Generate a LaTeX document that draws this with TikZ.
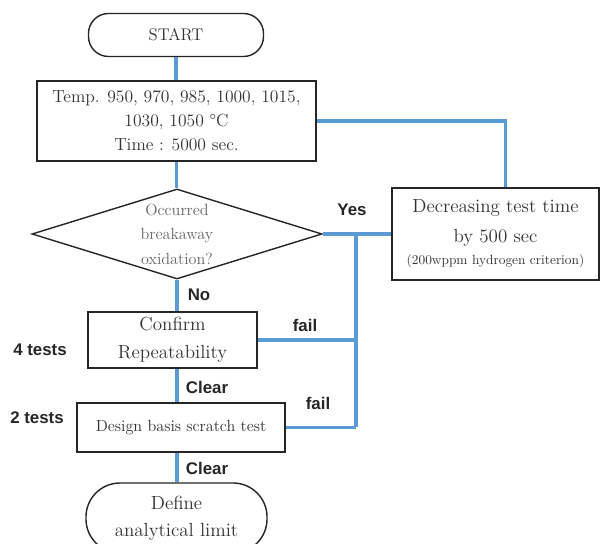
\documentclass[tikz,border=0pt]{standalone}
\usepackage{fontspec}
\newfontfamily\labelfont{Liberation Sans}
\usetikzlibrary{shapes.geometric}
\usepackage{xcolor}
\definecolor{lineBlue}{RGB}{91,155,213}
\colorlet{boxText}{black!80}
\colorlet{softText}{black!60}

\begin{document}
\begin{tikzpicture}[x=0.025cm, y=-0.025cm,
  box/.style={draw=black!85, line width=1pt, fill=white, align=center,
    inner sep=0pt, text=boxText},
  term/.style={box, rounded corners=#1},
  link/.style={lineBlue, line width=2.2pt},
  tag/.style={font=\labelfont\bfseries\fontsize{12}{14}\selectfont, text=black!85}
]
  \useasboundingbox (0,0) rectangle (600,544);

  \node[term=0.5cm, minimum width=4.375cm, minimum height=1.075cm,
    font=\fontsize{12}{14}\selectfont] (start) at (176,35) {START};
  \node[box, minimum width=6.975cm, minimum height=2cm,
    font=\fontsize{12.5}{17}\selectfont] (cond) at (176.5,121)
    {Temp. 950, 970, 985, 1000, 1015,\\ 1030, 1050 \textdegree C\\ Time : 5000 sec.};
  \node[box, diamond, aspect=3.2, minimum width=7.25cm, minimum height=2.25cm,
    text=softText, font=\fontsize{11.5}{17.5}\selectfont] (check) at (177,234)
    {Occurred\\ breakaway\\ oxidation?};
  \node[box, minimum width=5.175cm, minimum height=2.3cm,
    font=\fontsize{13.5}{21}\selectfont] (decr) at (495.5,234)
    {Decreasing test time\\ by 500 sec\\[-5pt]
     {\fontsize{9.5}{12}\selectfont (200wppm hydrogen criterion)}};
  \node[box, minimum width=4.225cm, minimum height=1.4cm,
    font=\fontsize{13.5}{20}\selectfont] (confirm) at (172.5,340)
    {Confirm\\ Repeatability};
  \node[box, minimum width=5.2cm, minimum height=1.225cm,
    font=\fontsize{11.5}{14}\selectfont] (design) at (181,427.5)
    {Design basis scratch test};
  \node[term=0.85cm, minimum width=4.525cm, minimum height=1.75cm,
    font=\fontsize{13.5}{19}\selectfont] (define) at (176.5,518)
    {Define\\ analytical limit};

  \coordinate (back) at (356,427.5);

  \draw[link] (start.south) -- (start.south |- cond.north);
  \draw[link] (cond.south) -- (cond.south |- check.north);
  \draw[link] (cond.east) -| ([xshift=0.26cm]decr.north);
  \draw[link] (check.east) -- (decr.west);
  \draw[link] (check.south) -- (check.south |- confirm.north);
  \draw[link] (check.south |- confirm.south) -- (check.south |- design.north);
  \draw[link] (check.south |- design.south) -- (check.south |- define.north);
  \draw[link] (back |- check.east) -- (back);
  \draw[link] (confirm.east) -- (confirm.east -| back);
  \draw[link] (design.east) -- (back);

  \node[tag] (yesTag) at (352,210) {Yes};
  \node[tag] (noTag) at (199,295) {No};
  \node[tag] (failTop) at (305,325) {fail};
  \node[tag] (failLow) at (318,403) {fail};
  \node[tag] (clearTop) at (207,387) {Clear};
  \node[tag] (clearLow) at (207,468) {Clear};
  \node[tag] (fourTests) at (40,350) {4 tests};
  \node[tag] (twoTests) at (37,418) {2 tests};
\end{tikzpicture}
\end{document}
